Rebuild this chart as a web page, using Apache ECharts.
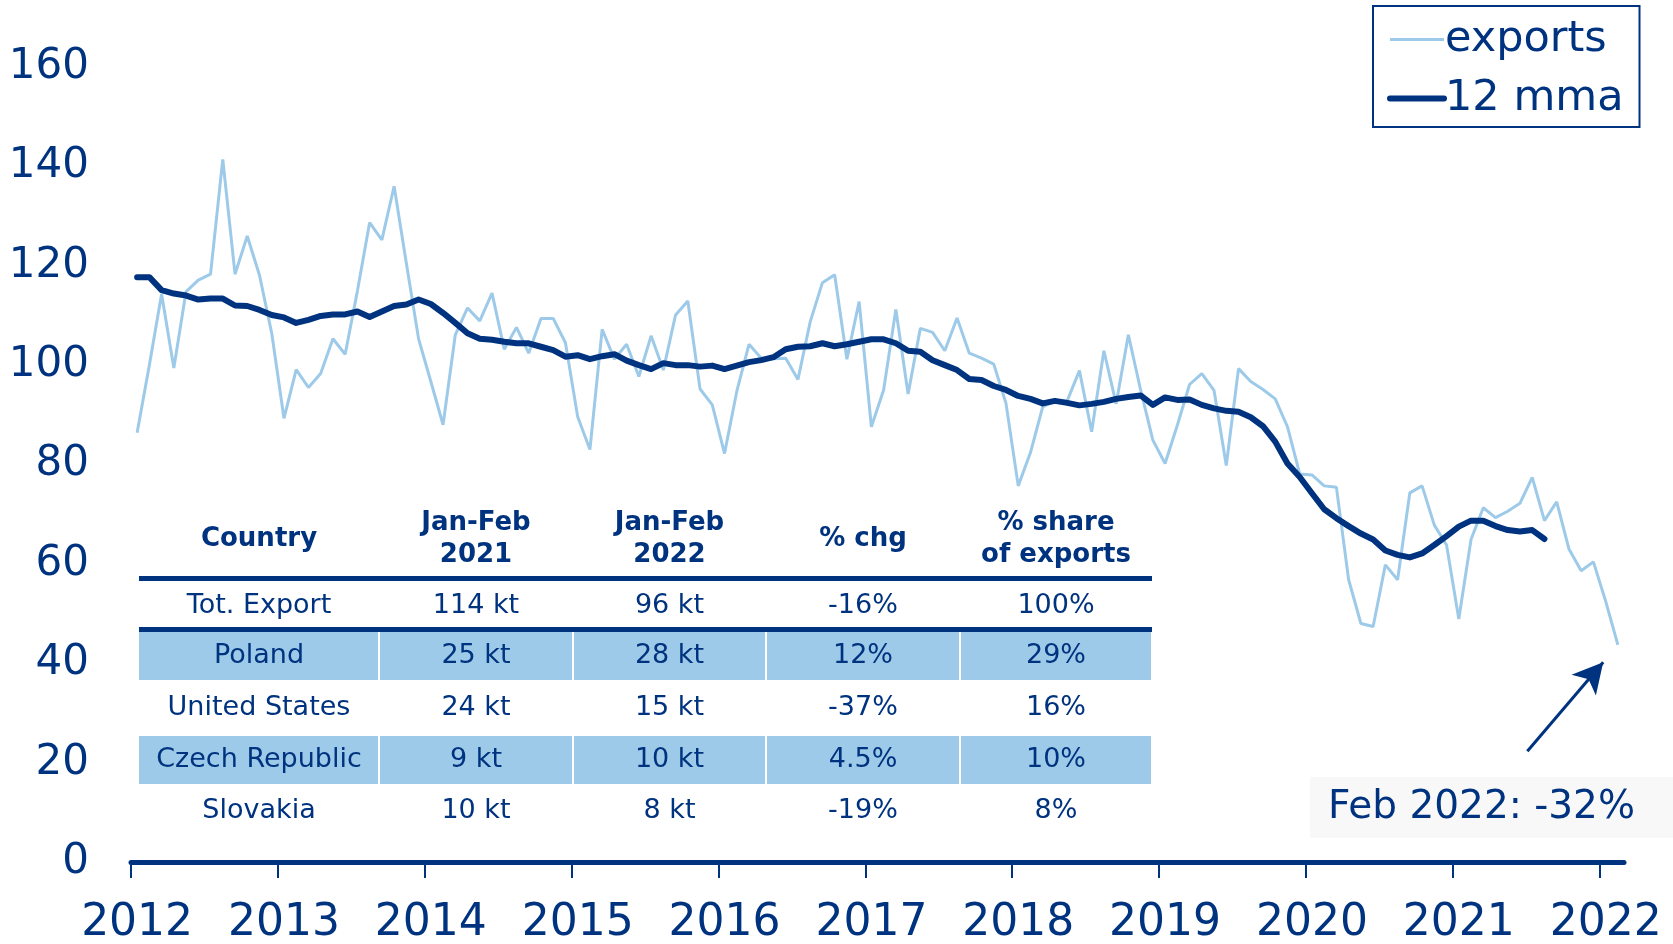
<!DOCTYPE html>
<html>
<head>
<meta charset="utf-8">
<script src="https://cdn.jsdelivr.net/npm/echarts@6/dist/echarts.min.js"></script>
<style>
  html, body { margin: 0; padding: 0; background: #ffffff; }
  #chart { width: 1673px; height: 944px; }
</style>
</head>
<body>
<div id="chart"></div>
<script>
// monthly exports (kt), Jan 2012 .. Feb 2022
var exportsKt = [
  86.4, 100.0, 114.3, 99.4, 114.8, 117.1, 118.3, 141.4, 118.3, 126.0, 118.1, 106.4,
  89.3, 99.1, 95.5, 98.3, 105.3, 102.2, 114.9, 128.7, 125.2, 136.0, 120.5, 105.3,
  96.7, 88.0, 106.1, 111.5, 108.9, 114.5, 103.2, 107.6, 102.4, 109.4, 109.4, 104.5,
  89.6, 83.0, 107.2, 101.2, 104.2, 97.7, 105.9, 99.0, 110.1, 112.9, 95.2, 92.0,
  82.2, 94.7, 104.2, 101.4, 101.3, 101.4, 97.1, 108.7, 116.6, 118.2, 101.2, 112.8,
  87.6, 95.0, 111.2, 94.2, 107.4, 106.6, 102.9, 109.5, 102.4, 101.4, 100.2, 92.3,
  75.7, 82.4, 91.6, 92.8, 92.8, 98.9, 86.6, 102.9, 92.2, 106.1, 95.0, 84.9,
  80.2, 87.9, 96.1, 98.3, 94.9, 79.8, 99.3, 96.7, 95.1, 93.2, 87.6, 78.1,
  77.9, 75.7, 75.4, 56.8, 48.0, 47.4, 59.8, 56.8, 74.3, 75.7, 67.8, 63.8,
  48.9, 64.9, 71.3, 69.3, 70.6, 72.2, 77.4, 68.7, 72.5, 63.0, 58.6, 60.4,
  52.5, 43.7
];
// 12-month moving average, Jan 2012 .. Aug 2021
var mma12 = [
  117.7, 117.7, 115.1, 114.4, 114.0, 113.2, 113.4, 113.4, 112.0, 111.9, 111.1, 110.1,
  109.6, 108.5, 109.1, 109.9, 110.2, 110.2, 110.8, 109.7, 110.8, 111.9, 112.2, 113.2,
  112.3, 110.5, 108.5, 106.4, 105.3, 105.1, 104.7, 104.4, 104.4, 103.7, 103.0, 101.7,
  102.0, 101.2, 101.8, 102.2, 100.9, 100.0, 99.2, 100.4, 100.0, 100.0, 99.7, 99.9,
  99.2, 99.9, 100.6, 101.0, 101.6, 103.2, 103.7, 103.8, 104.4, 103.8, 104.2, 104.7,
  105.2, 105.2, 104.4, 102.9, 102.7, 101.0, 100.0, 99.0, 97.2, 97.0, 95.8, 95.0,
  93.8, 93.2, 92.3, 92.8, 92.4, 91.9, 92.2, 92.6, 93.2, 93.6, 93.9, 92.0,
  93.5, 93.0, 93.1, 92.0, 91.3, 90.8, 90.6, 89.5, 87.7, 84.6, 80.2, 77.5,
  74.2, 71.0, 69.2, 67.6, 66.1, 64.9, 62.7, 61.8, 61.3, 62.1, 63.8, 65.6,
  67.5, 68.7, 68.7, 67.6, 66.8, 66.5, 66.8, 65.0
];
var years = ['2012', '2013', '2014', '2015', '2016', '2017', '2018', '2019', '2020', '2021', '2022'];
var yTicks = [0, 20, 40, 60, 80, 100, 120, 140, 160];

var tableHead = ['Country', 'Jan-Feb\n2021', 'Jan-Feb\n2022', '% chg', '% share\nof exports'];
var tableRows = [
  ['Tot. Export', '114 kt', '96 kt', '-16%', '100%'],
  ['Poland', '25 kt', '28 kt', '12%', '29%'],
  ['United States', '24 kt', '15 kt', '-37%', '16%'],
  ['Czech Republic', '9 kt', '10 kt', '4.5%', '10%'],
  ['Slovakia', '10 kt', '8 kt', '-19%', '8%']
];
var shadedRows = [1, 3];
var noteText = 'Feb 2022: -32%';
var arrowFrom = [114.1, 22.3];   // month index, kt
var arrowTo = [120.3, 40.2];

var navy = '#00337f';
var light = '#9ecae9';
var font = 'DejaVu Sans';

var chart = echarts.init(document.getElementById('chart'));

// table drawn as graphic elements
var colX = [139, 379, 573, 766, 960, 1152];
var headY = 539;
var rowY = [606, 656, 708, 760, 811];
var graphic = [];
shadedRows.forEach(function (r) {
  for (var c = 0; c < 5; c++) {
    graphic.push({
      type: 'rect',
      shape: { x: colX[c] + (c > 0 ? 1 : 0), y: rowY[r] - 24, width: colX[c + 1] - colX[c] - (c > 0 ? 2 : 1), height: 48 },
      style: { fill: light }
    });
  }
});
graphic.push({ type: 'rect', shape: { x: colX[0], y: 576, width: colX[5] - colX[0], height: 5 }, style: { fill: navy } });
graphic.push({ type: 'rect', shape: { x: colX[0], y: 627, width: colX[5] - colX[0], height: 5 }, style: { fill: navy } });
tableHead.forEach(function (h, c) {
  graphic.push({
    type: 'text',
    x: (colX[c] + colX[c + 1]) / 2, y: headY,
    style: {
      text: h, fill: navy, font: 'bold 26px "' + font + '"',
      align: 'center', verticalAlign: 'middle', lineHeight: 32
    }
  });
});
tableRows.forEach(function (row, r) {
  row.forEach(function (cell, c) {
    graphic.push({
      type: 'text',
      x: (colX[c] + colX[c + 1]) / 2, y: rowY[r],
      style: {
        text: cell, fill: navy, font: '27px "' + font + '"',
        align: 'center', verticalAlign: 'middle'
      }
    });
  });
});
// annotation box
graphic.push({ type: 'rect', shape: { x: 1310, y: 777, width: 363, height: 61 }, style: { fill: '#f8f8f8' } });
graphic.push({
  type: 'text', x: 1328, y: 808,
  style: { text: noteText, fill: navy, font: '39px "' + font + '"', align: 'left', verticalAlign: 'middle' }
});

var option = {
  animation: false,
  backgroundColor: '#ffffff',
  textStyle: { fontFamily: font },
  grid: { left: 131, right: 49, top: 67, bottom: 82, outerBoundsMode: 'none', containLabel: false },
  legend: {
    left: 1373, top: 6,
    orient: 'vertical',
    borderColor: navy, borderWidth: 2,
    padding: [12, 16, 7, 14],
    itemGap: 16,
    itemWidth: 54, itemHeight: 20,
    itemStyle: { opacity: 0 },
    textStyle: { fontSize: 43, color: navy, fontFamily: font, padding: [0, 0, 0, -4] },
    data: [
      { name: 'exports', lineStyle: { width: 3 } },
      { name: '12 mma', lineStyle: { width: 6, cap: 'round' } }
    ]
  },
  xAxis: {
    type: 'value',
    min: 0, max: exportsKt.length,
    splitLine: { show: false },
    axisLine: { show: true, lineStyle: { color: navy, width: 5 } },
    axisTick: {
      show: true, length: 16, inside: false,
      lineStyle: { color: navy, width: 2 },
      customValues: years.map(function (y, k) { return k * 12; })
    },
    axisLabel: {
      customValues: years.map(function (y, k) { return k * 12 + 0.5; }),
      formatter: function (v) { return years[Math.floor(v / 12)]; },
      color: navy, fontSize: 44, fontFamily: font, margin: 40
    }
  },
  yAxis: {
    type: 'value',
    min: yTicks[0], max: yTicks[yTicks.length - 1], interval: 20,
    splitLine: { show: false },
    axisLine: { show: false },
    axisTick: { show: false },
    axisLabel: { color: navy, fontSize: 42, fontFamily: font, margin: 42, padding: [20, 0, 0, 0] }
  },
  graphic: graphic,
  series: [
    {
      name: 'exports',
      type: 'line',
      symbol: 'none',
      data: exportsKt.map(function (v, i) { return [i + 0.5, v]; }),
      lineStyle: { color: light, width: 3 },
      itemStyle: { color: light },
      z: 3,
      markLine: {
        silent: true,
        symbol: ['none', 'arrow'],
        symbolSize: [24, 30],
        label: { show: false },
        lineStyle: { color: navy, width: 3, type: 'solid' },
        data: [[{ coord: arrowFrom }, { coord: arrowTo }]]
      }
    },
    {
      name: '12 mma',
      type: 'line',
      symbol: 'none',
      data: mma12.map(function (v, i) { return [i + 0.5, v]; }),
      lineStyle: { color: navy, width: 6, cap: 'round', join: 'round' },
      itemStyle: { color: navy },
      z: 4
    }
  ]
};
chart.setOption(option);
</script>
</body>
</html>
